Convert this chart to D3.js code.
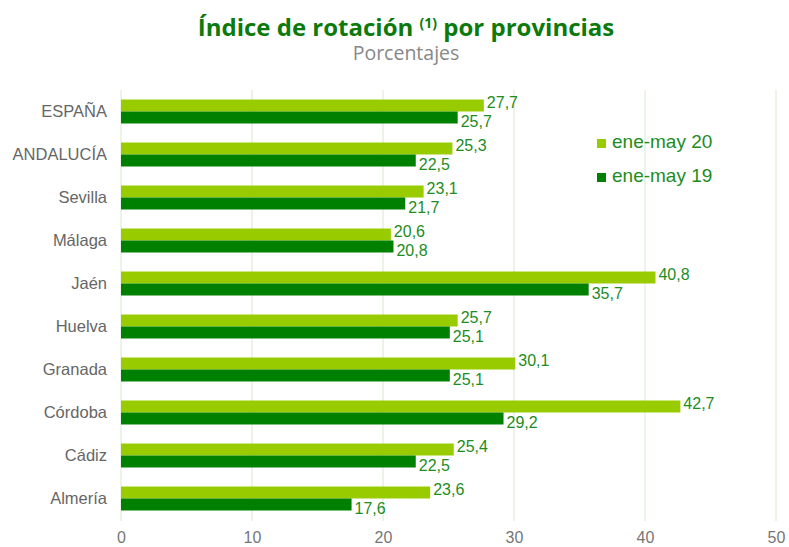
<!DOCTYPE html>
<html>
<head>
<meta charset="utf-8">
<script src="https://cdn.jsdelivr.net/npm/d3@7"></script>
<style>
  body { margin: 0; background: #fff; }
</style>
</head>
<body>
<div id="chart"></div>
<script>
// ---------------------- data ----------------------
var categories = ["ESPAÑA", "ANDALUCÍA", "Sevilla", "Málaga", "Jaén", "Huelva", "Granada", "Córdoba", "Cádiz", "Almería"];
var series20 = [27.7, 25.3, 23.1, 20.6, 40.8, 25.7, 30.1, 42.7, 25.4, 23.6];
var series19 = [25.7, 22.5, 21.7, 20.8, 35.7, 25.1, 25.1, 29.2, 22.5, 17.6];
var seriesNames = ["ene-may 20", "ene-may 19"];
var xTicks = [0, 10, 20, 30, 40, 50];

var colLight = "#99cc00", colDark = "#008000", colLabel = "#1e8c1e";
var font = "'Liberation Sans', Arial, sans-serif";

var width = 789, height = 547;
var fmt = function (v) { return d3.format(".1f")(v).replace(".", ","); };

var svg = d3.select("#chart")
     .append("svg")
     .attr("width", width)
     .attr("height", height)
     .style("font-family", font);

// ---------------------- scales ----------------------
var x = d3.scaleLinear().domain([0, 50]).range([121, 776]);
var y = d3.scaleBand().domain(categories).range([90, 520]).paddingInner(0.442).paddingOuter(0.221);

// gridlines
svg.append("g")
     .selectAll("line")
     .data(xTicks)
     .enter()
     .append("line")
     .attr("x1", d => x(d)).attr("x2", d => x(d))
     .attr("y1", 90).attr("y2", 521)
     .attr("stroke", "#d9e6d2")
     .attr("stroke-width", 1);

// x axis labels
var xAxis = d3.axisBottom(x).tickValues(xTicks).tickSize(0).tickPadding(0);
var gx = svg.append("g").call(xAxis);
gx.select(".domain").remove();
gx.selectAll("text")
     .style("font-size", "16px")
     .style("font-family", font)
     .attr("fill", "#777")
     .attr("dy", "0")
     .attr("y", 543);

// y axis labels
var yAxis = d3.axisLeft(y).tickSize(0).tickPadding(0);
var gy = svg.append("g").attr("transform", "translate(107,0)").call(yAxis);
gy.select(".domain").remove();
gy.selectAll("text")
     .style("font-size", "16.5px")
     .style("font-family", font)
     .attr("fill", "#666");

// ---------------------- bars ----------------------
var bh = y.bandwidth() / 2;
var rows = categories.map((c, i) => ({ cat: c, v20: series20[i], v19: series19[i] }));

svg.append("g").selectAll("rect")
     .data(rows).enter().append("rect")
     .attr("x", x(0)).attr("y", d => y(d.cat))
     .attr("width", d => x(d.v20) - x(0)).attr("height", bh)
     .attr("fill", colLight);

svg.append("g").selectAll("rect")
     .data(rows).enter().append("rect")
     .attr("x", x(0)).attr("y", d => y(d.cat) + bh)
     .attr("width", d => x(d.v19) - x(0)).attr("height", bh)
     .attr("fill", colDark);

// value labels
svg.append("g").selectAll("text")
     .data(rows).enter().append("text")
     .attr("x", d => x(d.v20) + 3).attr("y", d => y(d.cat) + 8.5)
     .text(d => fmt(d.v20))
     .style("font-size", "16px").attr("fill", colLabel);

svg.append("g").selectAll("text")
     .data(rows).enter().append("text")
     .attr("x", d => x(d.v19) + 3).attr("y", d => y(d.cat) + bh + 15)
     .text(d => fmt(d.v19))
     .style("font-size", "16px").attr("fill", colLabel);

// ---------------------- legend ----------------------
var legend = svg.append("g").selectAll("g")
     .data(seriesNames).enter().append("g")
     .attr("transform", (d, i) => "translate(597," + (139 + i * 34) + ")");
legend.append("rect").attr("width", 9).attr("height", 9)
     .attr("fill", (d, i) => i === 0 ? colLight : colDark);
legend.append("text").attr("x", 15).attr("y", 9)
     .text(d => d)
     .style("font-size", "19px").attr("fill", colLabel);

// ---------------------- title ----------------------
var title = svg.append("text")
     .attr("x", 406).attr("y", 36)
     .attr("text-anchor", "middle")
     .style("font-family", "'Open Sans', sans-serif")
     .style("font-weight", "bold")
     .style("font-size", "24px")
     .attr("fill", "#0b7a0b");
title.append("tspan").text("Índice de rotación ");
title.append("tspan").text("(1)").style("font-size", "14px").attr("dy", -8);
title.append("tspan").text(" por provincias").attr("dy", 8);

svg.append("text")
     .attr("x", 406).attr("y", 60)
     .attr("text-anchor", "middle")
     .style("font-family", "'Open Sans', sans-serif")
     .style("font-size", "19.5px")
     .attr("fill", "#888")
     .text("Porcentajes");
</script>
</body>
</html>
